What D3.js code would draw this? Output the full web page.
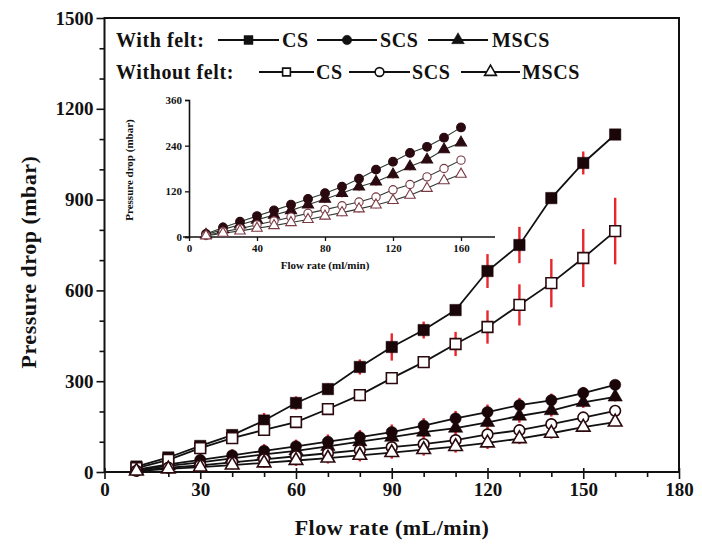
<!DOCTYPE html>
<html><head><meta charset="utf-8">
<script src="https://cdn.jsdelivr.net/npm/d3@7"></script>
<style>body{margin:0;background:#fff}svg text{font-family:"Liberation Serif","Times New Roman",serif;font-weight:bold;fill:#111}</style>
</head><body><svg id="c" width="702" height="549"></svg>
<script>
const flowRates = [10,20,30,40,50,60,70,80,90,100,110,120,130,140,150,160];
const csFelt    = [18,48,86,122,170,228,274,347,413,469,535,664,750,905,1021,1115];
const csNoFelt  = [13,40,79,112,139,165,208,254,310,363,423,479,552,624,707,796];
const scsFelt   = [8,25,40,55,70,85,100,115,132,153,177,198,221,237,261,288];
const mscsFelt  = [6,20,32,45,58,70,85,100,115,132,145,164,185,203,230,248];
const scsNoFelt = [4,14,22,32,42,52,62,72,82,92,105,124,138,158,180,202];
const mscsNoFelt= [3,10,16,23,30,38,46,55,64,74,84,96,110,128,148,165];
const csFeltErr   = [4,10,15,18,25,22,18,25,45,28,12,56,60,18,38,6];
const csNoFeltErr = [4,8,12,15,15,15,18,20,18,15,40,55,68,80,96,110];
const scsFeltErr  = [5,12,18,20,22,22,24,24,25,25,25,25,24,22,20,15];
const mscsFeltErr = [5,10,15,18,20,20,22,22,24,24,22,22,22,20,18,15];
const scsNoFeltErr= [4,10,14,16,18,20,20,22,22,22,22,22,20,20,18,15];
const mscsNoFeltErr=[4,8,12,14,16,18,18,20,20,20,20,20,18,18,16,14];
const xTicks = [0,30,60,90,120,150,180];
const yTicks = [0,300,600,900,1200,1500];
const insetXTicks = [0,40,80,120,160];
const insetYTicks = [0,120,240,360];

const svg = d3.select("#c");
const M = {l:104.5, r:679, t:18, b:472};
const x = d3.scaleLinear().domain([0,180]).range([M.l,M.r]);
const y = d3.scaleLinear().domain([0,1500]).range([M.b,M.t]);
const fmt = d3.format("d");

const series = [
  {name:"CS", felt:true, v:csFelt, e:csFeltErr, sym:d3.symbolSquare, size:130},
  {name:"SCS", felt:true, v:scsFelt, e:scsFeltErr, sym:d3.symbolCircle, size:100},
  {name:"MSCS", felt:true, v:mscsFelt, e:mscsFeltErr, sym:d3.symbolTriangle, size:90},
  {name:"CS", felt:false, v:csNoFelt, e:csNoFeltErr, sym:d3.symbolSquare, size:115},
  {name:"SCS", felt:false, v:scsNoFelt, e:scsNoFeltErr, sym:d3.symbolCircle, size:90},
  {name:"MSCS", felt:false, v:mscsNoFelt, e:mscsNoFeltErr, sym:d3.symbolTriangle, size:80}
];

// axes
const gx = svg.append("g").attr("transform",`translate(0,${M.b})`);
gx.call(d3.axisBottom(x).tickValues(d3.range(0,181,10)).tickSize(5).tickFormat(""));
gx.call(g=>g.selectAll(".tick line").filter(d=>d%30===0).attr("y1",-4).attr("y2",7));
gx.append("g").call(d3.axisBottom(x).tickValues(xTicks).tickSize(0).tickPadding(11).tickFormat(fmt));
const gy = svg.append("g").attr("transform",`translate(${M.l},0)`);
gy.call(d3.axisLeft(y).tickValues(d3.range(0,1501,100)).tickSize(5).tickFormat(""));
gy.call(g=>g.selectAll(".tick line").filter(d=>d%300===0).attr("x2",-8));
gy.append("g").call(d3.axisLeft(y).tickValues(yTicks).tickSize(0).tickPadding(11).tickFormat(fmt));
svg.selectAll(".domain").remove();
svg.selectAll(".tick text").style("font-size","19px");
svg.selectAll(".tick line").attr("stroke","#111").attr("stroke-width",1.6);
svg.append("rect").attr("x",M.l).attr("y",M.t).attr("width",M.r-M.l).attr("height",M.b-M.t)
  .attr("fill","none").attr("stroke","#111").attr("stroke-width",2);

svg.append("text").attr("x",392).attr("y",535).attr("text-anchor","middle").style("font-size","22px").style("letter-spacing","0.5px").text("Flow rate (mL/min)");
svg.append("text").attr("transform","translate(36,262) rotate(-90)").attr("text-anchor","middle").style("font-size","22px").style("letter-spacing","0.5px").text("Pressure drop (mbar)");

function drawSeries(g, xs, ys, sc, errW, lw){
  series.forEach(s=>{
    const pts = flowRates.map((f,i)=>({f, v:s.v[i], e:s.e[i]}));
    g.append("path").datum(pts).attr("fill","none").attr("stroke","#111").attr("stroke-width",lw)
      .attr("d", d3.line().x(d=>xs(d.f)).y(d=>ys(d.v)));
  });
  series.forEach(s=>{
    const pts = flowRates.map((f,i)=>({f, v:s.v[i], e:s.e[i]}));
    g.selectAll(null).data(pts).enter().append("line")
      .attr("x1",d=>xs(d.f)).attr("x2",d=>xs(d.f))
      .attr("y1",d=>ys(d.v-d.e)).attr("y2",d=>ys(d.v+d.e))
      .attr("stroke","#e8262e").attr("stroke-width",errW);
  });
  series.forEach(s=>{
    const pts = flowRates.map((f,i)=>({f, v:s.v[i]}));
    g.selectAll(null).data(pts).enter().append("path")
      .attr("transform",d=>`translate(${xs(d.f)},${ys(d.v)})`)
      .attr("d", d3.symbol().type(s.sym).size(s.size*sc))
      .attr("fill", s.felt ? "#1a0508" : "#fff")
      .attr("stroke", s.felt ? "#1a0508" : "#2a0a0e").attr("stroke-width", s.felt?0.5:1.6*Math.sqrt(sc));
  });
}
drawSeries(svg.append("g"), x, y, 1, 2.4, 1.8);

// legend
const lg = svg.append("g");
function legItem(x0,x1,cy,sym,size,filled){
  lg.append("line").attr("x1",x0).attr("x2",x1).attr("y1",cy).attr("y2",cy).attr("stroke","#111").attr("stroke-width",2);
  lg.append("path").attr("transform",`translate(${(x0+x1)/2},${cy})`).attr("d",d3.symbol().type(sym).size(size))
    .attr("fill",filled?"#111":"#fff").attr("stroke","#111").attr("stroke-width",filled?0.5:1.6);
}
const ltxt=(t,xx,yy)=>lg.append("text").attr("x",xx).attr("y",yy).attr("dy","0.35em").style("font-size","20px").style("letter-spacing","0.6px").text(t);
ltxt("With felt:",116,40);
legItem(218,279,40,d3.symbolSquare,80,true); ltxt("CS",282,40);
legItem(317,377,40,d3.symbolCircle,70,true); ltxt("SCS",380,40);
legItem(428,488,40,d3.symbolTriangle,70,true); ltxt("MSCS",492,40);
ltxt("Without felt:",116,72);
legItem(259,314,72,d3.symbolSquare,60,false); ltxt("CS",316,72);
legItem(349,410,72,d3.symbolCircle,60,false); ltxt("SCS",412,72);
legItem(461,520,72,d3.symbolTriangle,60,false); ltxt("MSCS",522,72);

// inset
const ix = d3.scaleLinear().domain([0,180]).range([189,495]);
const iy = d3.scaleLinear().domain([0,360]).range([237,100]);
const ig = svg.append("g");
const igx = ig.append("g").attr("transform","translate(0,237)").call(d3.axisBottom(ix).tickValues(insetXTicks).tickSize(4).tickPadding(3));
const igy = ig.append("g").attr("transform","translate(189,0)").call(d3.axisLeft(iy).tickValues(insetYTicks).tickSize(4).tickPadding(3));
ig.selectAll(".domain").attr("stroke","#111").attr("stroke-width",1.6);
ig.selectAll(".tick line").attr("stroke","#111").attr("stroke-width",1.3);
ig.selectAll(".tick text").style("font-size","11px");
igx.select(".domain").attr("d","M183,0H495");
ig.append("text").attr("x",325).attr("y",269).attr("text-anchor","middle").style("font-size","11px").text("Flow rate (ml/min)");
ig.append("text").attr("transform","translate(133,170) rotate(-90)").attr("text-anchor","middle").style("font-size","11px").text("Pressure drop (mbar)");
const insetSeries = series.filter(s=>s.name!=="CS");
(function(){
  const g = ig.append("g");
  insetSeries.forEach(s=>{
    const pts = flowRates.map((f,i)=>({f, v:s.v[i], e:s.e[i]}));
    g.append("path").datum(pts).attr("fill","none").attr("stroke","#2d3a30").attr("stroke-width",1.1)
      .attr("d", d3.line().x(d=>ix(d.f)).y(d=>iy(d.v)));
    g.selectAll(null).data(pts).enter().append("line")
      .attr("x1",d=>ix(d.f)).attr("x2",d=>ix(d.f))
      .attr("y1",d=>iy(d.v-d.e*0.5)).attr("y2",d=>iy(d.v+d.e*0.5))
      .attr("stroke","#e8262e").attr("stroke-width",1.3).attr("opacity",0.7);
  });
  insetSeries.forEach(s=>{
    const pts = flowRates.map((f,i)=>({f, v:s.v[i]}));
    g.selectAll(null).data(pts).enter().append("path")
      .attr("transform",d=>`translate(${ix(d.f)},${iy(d.v)})`)
      .attr("d", d3.symbol().type(s.sym).size(s.size*0.6))
      .attr("fill", s.felt ? "#2a0a10" : "#fff")
      .attr("stroke", s.felt ? "#2a0a10" : "#7a3a44").attr("stroke-width", 1.1);
  });
})();
</script></body></html>
